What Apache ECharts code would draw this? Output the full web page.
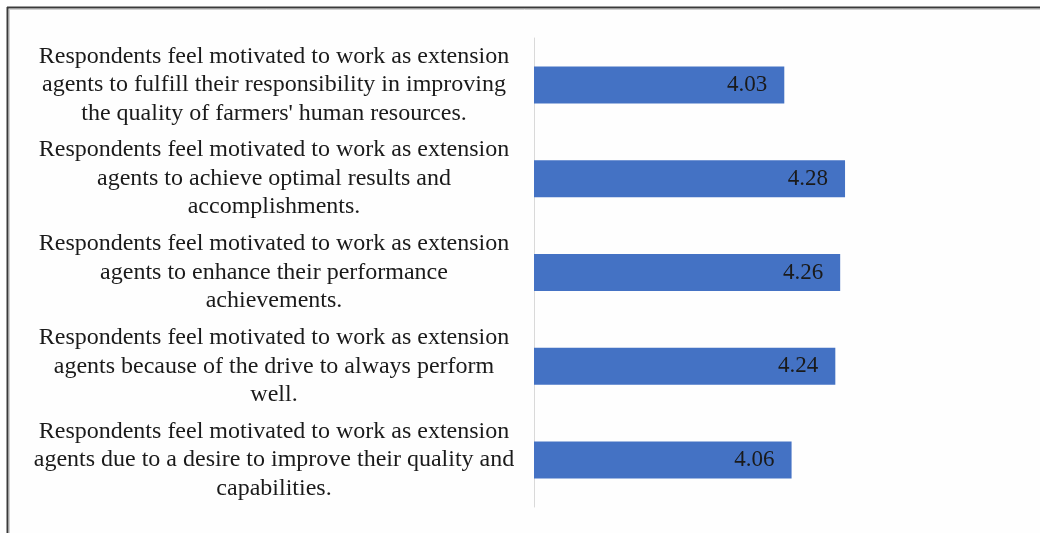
<!DOCTYPE html>
<html>
<head>
<meta charset="utf-8">
<script src="https://cdn.jsdelivr.net/npm/echarts@6/dist/echarts.min.js"></script>
<style>
  html, body { margin: 0; padding: 0; background: #fefefe; }
  #chart { width: 1040px; height: 533px; }
</style>
</head>
<body>
<div id="chart"></div>
<script>
// Motivation statements (top to bottom) and their mean scores
const statements = [
  "Respondents feel motivated to work as extension\nagents to fulfill their responsibility in improving\nthe quality of farmers' human resources.",
  "Respondents feel motivated to work as extension\nagents to achieve optimal results and\naccomplishments.",
  "Respondents feel motivated to work as extension\nagents to enhance their performance\nachievements.",
  "Respondents feel motivated to work as extension\nagents because of the drive to always perform\nwell.",
  "Respondents feel motivated to work as extension\nagents due to a desire to improve their quality and\ncapabilities."
];
const meanScores = [4.03, 4.28, 4.26, 4.24, 4.06];

const chart = echarts.init(document.getElementById('chart'), null, { renderer: 'canvas' });
const serif = '"Liberation Serif", "Times New Roman", serif';

chart.setOption({
  animation: false,
  backgroundColor: '#fefefe',
  grid: { left: 534, top: 38, width: 486, height: 469, containLabel: false },
  xAxis: {
    type: 'value',
    min: 3,
    max: 5,
    axisLine: { show: false },
    axisTick: { show: false },
    axisLabel: { show: false },
    splitLine: { show: false }
  },
  yAxis: {
    type: 'category',
    inverse: true,
    data: statements,
    axisLine: { show: true, lineStyle: { color: '#d9d9d9', width: 1 } },
    axisTick: { show: false },
    axisLabel: {
      margin: 260,
      align: 'center',
      fontFamily: serif,
      fontSize: 24,
      lineHeight: 28.5,
      padding: [6, 0, 0, 0],
      color: '#1a1a1a'
    }
  },
  series: [{
    type: 'bar',
    data: meanScores,
    barWidth: 37,
    itemStyle: { color: '#4472C4' },
    label: {
      show: true,
      position: 'insideRight',
      distance: 17,
      fontFamily: serif,
      fontSize: 23,
      color: '#1a1a1a',
      formatter: p => p.value.toFixed(2)
    }
  }],
  graphic: [
    { type: 'line', silent: true, shape: { x1: 7, y1: 7.5, x2: 1040, y2: 7.5 }, style: { stroke: '#3a3a3a', lineWidth: 2 } },
    { type: 'line', silent: true, shape: { x1: 7.5, y1: 7, x2: 7.5, y2: 533 }, style: { stroke: '#3a3a3a', lineWidth: 2 } },
    { type: 'line', silent: true, shape: { x1: 9, y1: 9.5, x2: 1040, y2: 9.5 }, style: { stroke: '#d0d0d0', lineWidth: 1 } },
    { type: 'line', silent: true, shape: { x1: 9.5, y1: 9, x2: 9.5, y2: 533 }, style: { stroke: '#d0d0d0', lineWidth: 1 } }
  ]
});
</script>
</body>
</html>
